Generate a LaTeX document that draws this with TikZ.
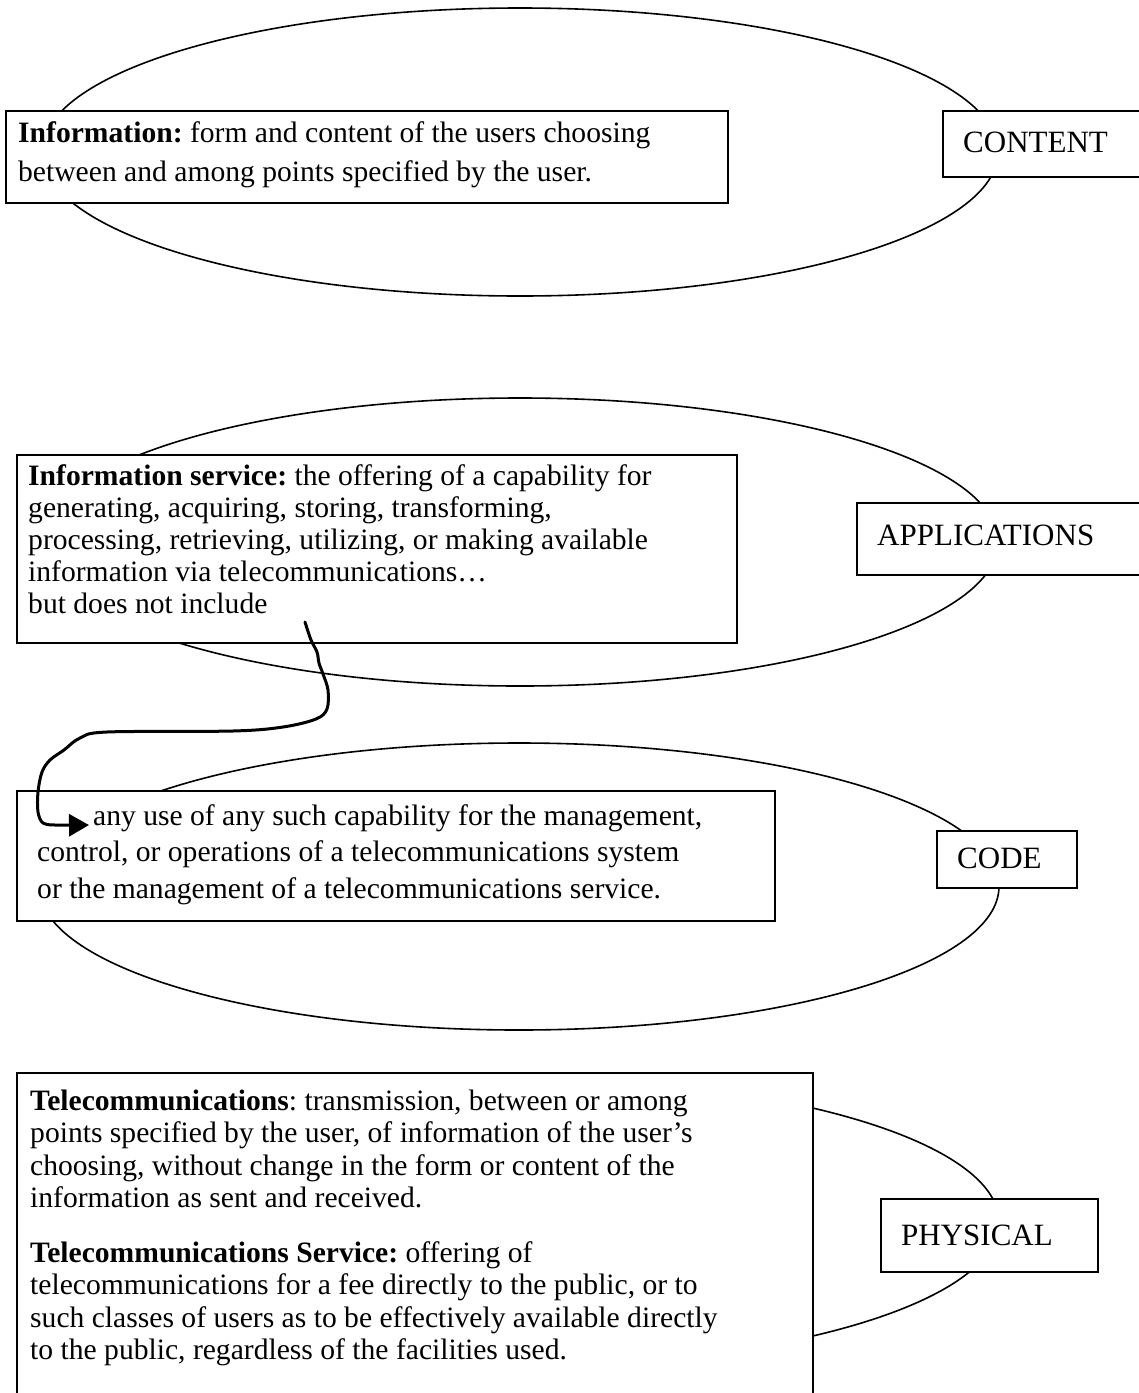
\documentclass[tikz,border=0pt]{standalone}
\usepackage{fontspec}
\setmainfont{Liberation Serif}
\usetikzlibrary{arrows.meta}
\frenchspacing
\begin{document}
\begin{tikzpicture}[x=1pt,y=-1pt,
  layerring/.style={draw=black, line width=1.6pt},
  defbox/.style={draw=black, fill=white, line width=1.5pt, inner sep=0pt, anchor=north west},
  deftext/.style={anchor=north west, inner sep=0pt, align=left},
  layertag/.style={anchor=base west, inner sep=0pt, font=\fontsize{31}{31}\selectfont},
  hookline/.style={line width=3pt, -{Triangle[length=20pt,width=22pt]}, line cap=round, line join=round}]
\useasboundingbox (0,0) rectangle (1139,1393);
\clip (0,0) rectangle (1139,1393);
\fill[white] (0,0) rectangle (1139,1393);

% the four layers
\draw[layerring] (520,152) ellipse [x radius=478pt, y radius=144pt];
\draw[layerring] (520,542) ellipse [x radius=478pt, y radius=144pt];
\draw[layerring] (519,886.5) ellipse [x radius=480pt, y radius=143.5pt];
\draw[layerring] (520,1222) ellipse [x radius=479pt, y radius=144pt];

% CONTENT layer
\node[defbox, minimum width=722pt, minimum height=92pt] (infobox) at (5,110) {};
\node[deftext, font=\fontsize{29.6}{39}\selectfont] (infotext) at (18,117.5)
  {\rule{0pt}{25pt}\textbf{Information:} form and content of the users choosing\\
   between and among points specified by the user.};
\node[defbox, minimum width=215pt, minimum height=66pt] (contentbox) at (942,110) {};
\node[layertag] (contenttag) at (963,152) {CONTENT};

% APPLICATIONS layer
\node[defbox, minimum width=720pt, minimum height=188pt] (servicebox) at (16,454) {};
\node[deftext, font=\fontsize{29.6}{32}\selectfont] (servicetext) at (28,460)
  {\rule{0pt}{25pt}\textbf{Information service:} the offering of a capability for\\
   generating, acquiring, storing, transforming,\\
   processing, retrieving, utilizing, or making available\\
   information via telecommunications…\\
   but does not include};
\node[defbox, minimum width=300pt, minimum height=72pt] (appbox) at (856,502) {};
\node[layertag] (apptag) at (877,545) {APPLICATIONS};

% CODE layer
\node[defbox, minimum width=758pt, minimum height=130pt] (exclbox) at (16,790) {};
\node[deftext, font=\fontsize{29.6}{36.5}\selectfont] (excltext) at (37,800)
  {\rule{0pt}{25pt}\hspace*{56pt}any use of any such capability for the management,\\
   control, or operations of a telecommunications system\\
   or the management of a telecommunications service.};
\node[defbox, minimum width=140pt, minimum height=57pt] (codebox) at (936,830) {};
\node[layertag] (codetag) at (957,868) {CODE};

% PHYSICAL layer
\node[defbox, minimum width=796pt, minimum height=360pt] (telebox) at (16,1072) {};
\node[deftext, font=\fontsize{29.6}{32.5}\selectfont] (teletext) at (30,1085)
  {\rule{0pt}{25pt}\textbf{Telecommunications}: transmission, between or among\\
   points specified by the user, of information of the user’s\\
   choosing, without change in the form or content of the\\
   information as sent and received.\\[22pt]
   \textbf{Telecommunications Service:} offering of\\
   telecommunications for a fee directly to the public, or to\\
   such classes of users as to be effectively available directly\\
   to the public, regardless of the facilities used.};
\node[defbox, minimum width=217pt, minimum height=73pt] (physbox) at (880,1198) {};
\node[layertag] (phystag) at (901,1245) {PHYSICAL};

% hand-drawn link from the exception clause to its continuation
\coordinate (hookstart) at (305,622);
\coordinate (hookend) at (89,825);
\draw[hookline] plot[smooth, tension=0.55] coordinates {
  (hookstart) (311,640) (317,652) (319,663) (323,674) (328,690) (327,709)
  (316,719) (283,727) (233,731) (107,732) (80,738) (64,750) (50,760)
  (42,772) (38,792) (38,812) (43,823) (55,825) (hookend)};
\end{tikzpicture}
\end{document}
